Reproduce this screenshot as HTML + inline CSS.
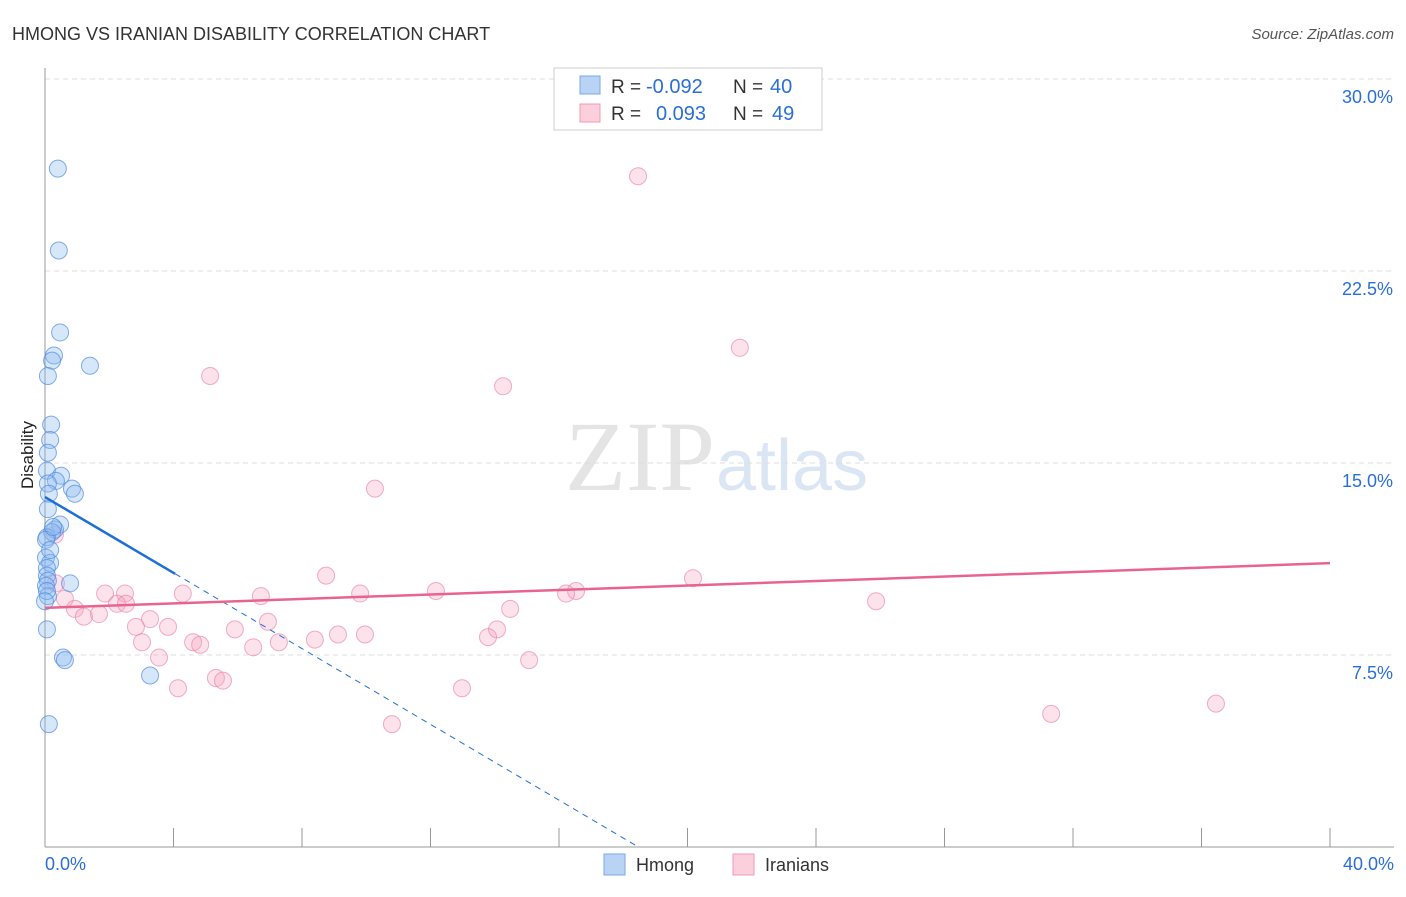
<!DOCTYPE html>
<html><head><meta charset="utf-8"><style>
body{margin:0;background:#fff;font-family:"Liberation Sans",sans-serif}
</style></head><body>
<svg id="c" width="1406" height="892" xmlns="http://www.w3.org/2000/svg">
<text x="12" y="40" font-size="18" fill="#333">HMONG VS IRANIAN DISABILITY CORRELATION CHART</text>
<text x="1394" y="39" font-size="15" fill="#555" font-style="italic" text-anchor="end">Source: ZipAtlas.com</text>
<text x="715" y="490" font-size="100" fill="#e4e4e4" text-anchor="end" font-family="Liberation Serif">ZIP</text>
<text x="716" y="490" font-size="72" fill="#dbe6f5">atlas</text>
<g id="grid"></g><g id="pts"></g><g id="lines"></g>
<text x="33" y="455" font-size="17" fill="#222" text-anchor="middle" transform="rotate(-90 33 455)">Disability</text>
<g>
<rect x="554" y="68" width="268" height="62" fill="#fff" stroke="#ccc"/>
<rect x="580" y="76" width="20" height="18" fill="#b9d3f5" stroke="#7aa8e6"/>
<text x="611" y="93" font-size="19" fill="#333">R =</text>
<text x="646" y="93" font-size="20" fill="#2a6fd6">-0.092</text>
<text x="733" y="93" font-size="19" fill="#333">N =</text>
<text x="770" y="93" font-size="20" fill="#2a6fd6">40</text>
<rect x="580" y="104" width="20" height="18" fill="#fbcfdc" stroke="#f09ab5"/>
<text x="611" y="120" font-size="19" fill="#333">R =</text>
<text x="656" y="120" font-size="20" fill="#2a6fd6">0.093</text>
<text x="733" y="120" font-size="19" fill="#333">N =</text>
<text x="772" y="120" font-size="20" fill="#2a6fd6">49</text>
</g>
<g>
<rect x="604" y="854" width="21" height="21" fill="#b9d3f5" stroke="#7aa8e6"/>
<text x="636" y="871" font-size="18" fill="#333">Hmong</text>
<rect x="733" y="854" width="21" height="21" fill="#fbcfdc" stroke="#f09ab5"/>
<text x="765" y="871" font-size="18" fill="#333">Iranians</text>
</g>
</svg>
<script>
const yTicks=[7.5,15,22.5,30];
const xTickLabels=["0.0%","40.0%"];
const hmongX=[0.4,0.43,0.47,0.28,0.22,0.09,1.4,0.19,0.16,0.09,0.06,0.5,0.34,0.09,0.84,0.93,0.12,0.09,0.47,0.31,0.22,0.06,0.03,0.16,0.06,0.06,0.09,0.03,0.78,0.09,0.06,0.56,0.62,3.27,0.12,0.03,0.25,0.16,0.06,0.0];
const hmongY=[26.5,23.3,20.1,19.2,19.0,18.4,18.8,16.5,15.9,15.4,14.7,14.5,14.3,14.2,14.0,13.8,13.8,13.2,12.6,12.4,12.3,12.1,11.3,11.1,10.9,10.6,10.4,10.2,10.3,9.8,8.5,7.4,7.3,6.7,4.8,12.0,12.5,11.6,10.0,9.6];
const iranX=[18.46,21.63,5.14,14.26,10.27,8.75,20.17,12.17,9.81,16.53,16.22,25.87,6.72,4.29,2.49,1.87,2.24,2.52,0.62,0.93,1.68,1.21,14.48,6.94,3.27,2.83,3.83,14.07,5.91,9.96,9.12,8.4,4.61,4.83,3.02,7.28,13.79,6.48,3.55,15.07,5.32,5.54,4.14,12.98,10.8,31.32,36.45,0.31,0.34];
const iranY=[26.2,19.5,18.4,18.0,14.0,10.6,10.5,10.0,9.9,10.0,9.9,9.6,9.8,9.9,9.9,9.9,9.5,9.5,9.7,9.3,9.1,9.0,9.3,8.8,8.9,8.6,8.6,8.5,8.5,8.3,8.3,8.1,8.0,7.9,8.0,8.0,8.2,7.8,7.4,7.3,6.6,6.5,6.2,6.2,4.8,5.2,5.6,12.2,10.3];
const blueFit=[13.67,-0.74], pinkFit=[9.34,0.0437];
const X=v=>45+v*32.125, Y=v=>847-v*25.6;
const NS="http://www.w3.org/2000/svg";
function mk(t,a,p){const e=document.createElementNS(NS,t);for(const k in a)e.setAttribute(k,a[k]);p.appendChild(e);return e;}
const g=document.getElementById('grid');
yTicks.forEach(t=>{
 const l=mk('line',{x1:45,x2:1394,y1:Y(t),y2:Y(t),stroke:'#ddd','stroke-dasharray':'5,4'},g);
 
 
 const tx=mk('text',{x:1393,y:Y(t)+24,'font-size':18,fill:'#2a6fd6','text-anchor':'end'},g);
 tx.textContent=t.toFixed(1)+'%';
 
 
});
const ax=mk('line',{x1:45,x2:45,y1:68,y2:847,stroke:'#999'},g);


const bx=mk('line',{x1:45,x2:1394,y1:847,y2:847,stroke:'#999'},g);


for(let i=0;i<=10;i++){const t=mk('line',{x1:X(i*4),x2:X(i*4),y1:828,y2:847,stroke:'#999'},g);
 
 }
[[0,'start',45],[40,'end',1394]].forEach((d,i)=>{const t=mk('text',{x:d[2],y:870,'font-size':18,fill:'#2a6fd6','text-anchor':d[1]},g);t.textContent=xTickLabels[i];
 
 });
const p=document.getElementById('pts');
iranX.forEach((x,i)=>{const c=mk('circle',{cx:X(x),cy:Y(iranY[i]),r:8.5,fill:'rgba(246,160,188,0.3)',stroke:'rgba(236,130,165,0.65)'},p);
 
 });
hmongX.forEach((x,i)=>{const c=mk('circle',{cx:X(x),cy:Y(hmongY[i]),r:8.5,fill:'rgba(140,185,240,0.35)',stroke:'rgba(80,140,225,0.7)'},p);
 
 });
const L=document.getElementById('lines');
const by=x=>blueFit[0]+blueFit[1]*x;
const b1=mk('line',{x1:X(0),y1:Y(by(0)),x2:X(4.05),y2:Y(by(4.05)),stroke:'#1f6fd6','stroke-width':2.5},L);


const xe=-blueFit[0]/blueFit[1];
const b2=mk('line',{x1:X(4.05),y1:Y(by(4.05)),x2:X(xe),y2:Y(0),stroke:'#1f6fd6','stroke-width':1,'stroke-dasharray':'6,5'},L);


const py=x=>pinkFit[0]+pinkFit[1]*x;
const p1=mk('line',{x1:X(0),y1:Y(py(0)),x2:X(40),y2:Y(py(40)),stroke:'#e8648f','stroke-width':2.5},L);


</script>
</body></html>
